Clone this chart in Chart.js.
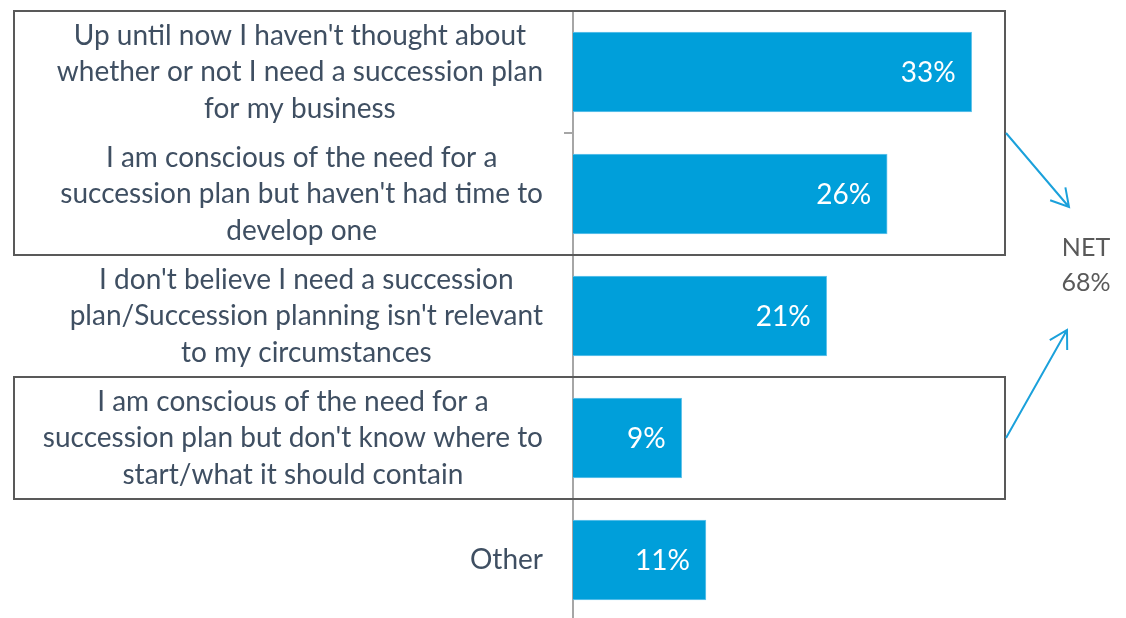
<!DOCTYPE html>
<html><head><meta charset="utf-8">
<script src="https://cdn.jsdelivr.net/npm/chart.js@4"></script>
<style>html,body{margin:0;padding:0;background:#fff;overflow:hidden}#wrap{width:1126px;height:624px;position:relative}</style>
</head><body><div id="wrap"><canvas id="c"></canvas></div>
<script>
const categories = [
  ["Up until now I haven't thought about", "whether or not I need a succession plan", "for my business"],
  ["I am conscious of the need for a", "succession plan but haven't had time to", "develop one"],
  ["I don't believe I need a succession", "plan/Succession planning isn't relevant", "to my circumstances"],
  ["I am conscious of the need for a", "succession plan but don't know where to", "start/what it should contain"],
  ["Other"]
];
const values = [33, 26, 21, 9, 11];
const valueLabels = ["33%", "26%", "21%", "9%", "11%"];
const netGroups = [[0, 1], [3]];
const netLabel = ["NET", "68%"];

const FONT = 'Lato, "Open Sans", sans-serif';

const overlay = {
  id: 'overlay',
  afterDatasetsDraw(chart) {
    const ctx = chart.ctx, y = chart.scales.y, ca = chart.chartArea;
    const step = y.getPixelForValue(1) - y.getPixelForValue(0);
    ctx.save();
    // category labels: block right-aligned, lines centered within block
    ctx.font = '28px ' + FONT;
    ctx.fillStyle = '#3F4F62';
    ctx.textAlign = 'center';
    ctx.textBaseline = 'middle';
    categories.forEach((lines, i) => {
      const cy = y.getPixelForValue(i);
      const w = Math.max(...lines.map(l => ctx.measureText(l).width));
      const cx = ca.left - 30 - w / 2;
      lines.forEach((l, j) => ctx.fillText(l, cx, cy + (j - (lines.length - 1) / 2) * 36.5));
    });
    // value labels
    ctx.font = '28px ' + FONT;
    ctx.fillStyle = '#FFFFFF';
    ctx.textAlign = 'right';
    chart.getDatasetMeta(0).data.forEach((bar, i) => ctx.fillText(valueLabels[i], bar.x - 16, bar.y + 1));
    // boxes
    ctx.lineWidth = 2;
    const boxL = 14, boxR = 1005;
    const tips = [[1069, 207], [1067, 330]];
    netGroups.forEach((g, k) => {
      const top = y.getPixelForValue(g[0]) - step / 2;
      const bot = y.getPixelForValue(g[g.length - 1]) + step / 2;
      ctx.strokeStyle = '#595959';
      ctx.strokeRect(boxL, top, boxR - boxL, bot - top);
      // arrow
      const sx = boxR + 1, sy = (top + bot) / 2;
      const [tx, ty] = tips[k];
      ctx.strokeStyle = '#1BA1DB';
      ctx.beginPath();
      ctx.moveTo(sx, sy); ctx.lineTo(tx, ty);
      const ang = Math.atan2(ty - sy, tx - sx);
      const hl = 20, ha = Math.PI / 6;
      ctx.moveTo(tx + hl * Math.cos(ang + Math.PI - ha), ty + hl * Math.sin(ang + Math.PI - ha));
      ctx.lineTo(tx, ty);
      ctx.lineTo(tx + hl * Math.cos(ang + Math.PI + ha), ty + hl * Math.sin(ang + Math.PI + ha));
      ctx.stroke();
    });
    // NET text
    ctx.font = '25px ' + FONT;
    ctx.fillStyle = '#595959';
    ctx.textAlign = 'center';
    ctx.fillText(netLabel[0], 1086, 248);
    ctx.fillText(netLabel[1], 1086, 283);
    ctx.restore();
  }
};

new Chart(document.getElementById('c'), {
  type: 'bar',
  data: {
    labels: categories.map(l => l.join(' ')),
    datasets: [{
      data: values,
      backgroundColor: '#009FDA',
      borderColor: '#6CC6EC',
      borderWidth: 1,
      barThickness: 80
    }]
  },
  plugins: [overlay],
  options: {
    indexAxis: 'y',
    responsive: true,
    maintainAspectRatio: false,
    animation: false,
    layout: { padding: { top: 11, bottom: 3, left: 0, right: 118 } },
    plugins: { legend: { display: false }, tooltip: { enabled: false } },
    scales: {
      x: { display: false, min: 0, max: 36 },
      y: {
        ticks: { display: false },
        grid: { display: true, drawOnChartArea: false, drawTicks: true, tickLength: 9, color: '#A6A6A6', lineWidth: 2, offset: true },
        border: { display: true, color: '#A6A6A6', width: 2 },
        afterFit(s) { s.width = 573; }
      }
    }
  }
});
</script>
</body></html>
